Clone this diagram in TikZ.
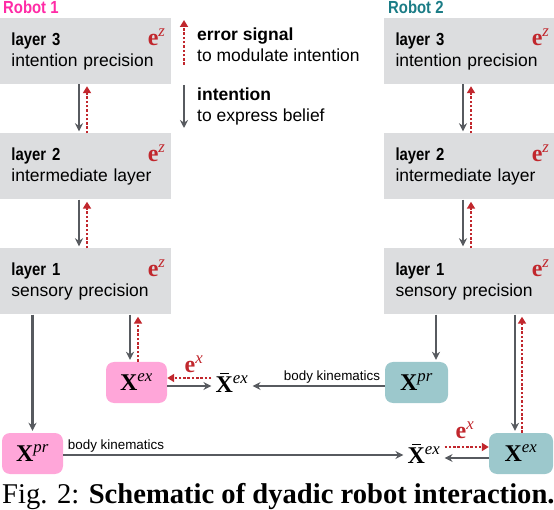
\documentclass[tikz,border=0pt]{standalone}
\usepackage{fontspec}
\setmainfont{Liberation Serif}
\setsansfont{Liberation Sans}
\newfontfamily\condsans[FakeStretch=0.85]{Liberation Sans}
\usetikzlibrary{positioning,arrows.meta}
\definecolor{boxgray}{HTML}{DCDDDF}
\definecolor{robpink}{HTML}{FFA6D9}
\definecolor{robteal}{HTML}{9CC8CC}
\definecolor{arrgray}{HTML}{575A5F}
\definecolor{errred}{HTML}{C1272D}
\definecolor{robmag}{HTML}{FF2BA6}
\definecolor{robdark}{HTML}{1B7C86}
\newcommand{\layertxt}[2]{{\condsans\bfseries #1}\\#2}
\newcommand{\Xs}[1]{\textbf{X}\textsuperscript{\itshape #1}}
\newcommand{\Xbar}{\textbf{\rlap{\hspace{0.2em}\rule[0.74em]{0.34em}{0.07em}}X}\textsuperscript{\itshape ex}}
\newcommand{\err}[1]{\textbf{e}\textsuperscript{\itshape #1}}
\tikzset{
    layer/.style={fill=boxgray, minimum height=66pt, text width=147pt, align=left,
        inner xsep=12pt, font=\sffamily\fontsize{17.5}{21}\selectfont},
    state/.style={rounded corners=8pt, minimum width=61pt, minimum height=41pt,
        inner sep=2pt, font=\fontsize{24}{26}\selectfont},
    plain/.style={inner sep=4pt, font=\fontsize{24}{26}\selectfont},
    ez/.style={inner sep=0pt, text=errred, font=\fontsize{24}{26}\selectfont},
    legtxt/.style={inner sep=0pt, align=left, anchor=west, font=\sffamily\fontsize{17.5}{21}\selectfont},
    kin/.style={inner sep=0pt, font=\sffamily\fontsize{13.4}{15}\selectfont},
    robot/.style={inner sep=0pt, anchor=west, font=\condsans\bfseries\fontsize{17.5}{20}\selectfont},
    down/.style={draw=arrgray, line width=2.5pt, shorten >=2pt, -{Stealth[length=8pt,width=8pt]}},
    up/.style={draw=errred, line width=2.5pt, dash pattern=on 2.5pt off 1.8pt, shorten >=2pt,
        -{Triangle[length=7pt,width=8pt]}}
}
\begin{document}
\begin{tikzpicture}[x=1pt, y=-1pt]
    \useasboundingbox (0,0) rectangle (554,510);
    % robot 1
    \node[robot, text=robmag] (rob1) at (3,7) {Robot 1};
    \node[layer] (l3a) at (85,51) {\layertxt{layer 3}{intention precision}};
    \node[layer] (l2a) at (85,166.5) {\layertxt{layer 2}{intermediate layer}};
    \node[layer] (l1a) at (85,281.5) {\layertxt{layer 1}{sensory precision}};
    % robot 2
    \node[robot, text=robdark] (rob2) at (388,7) {Robot 2};
    \node[layer] (l3b) at (469,51) {\layertxt{layer 3}{intention precision}};
    \node[layer] (l2b) at (469,166.5) {\layertxt{layer 2}{intermediate layer}};
    \node[layer] (l1b) at (469,281.5) {\layertxt{layer 1}{sensory precision}};
    \foreach \n in {l3a,l2a,l1a,l3b,l2b,l1b}
        \node[ez, anchor=north east] (ez\n) at ([xshift=-5pt, yshift=-11pt]\n.north east) {\err{z}};
    \foreach \u/\l in {l3a/l2a, l2a/l1a, l3b/l2b, l2b/l1b} {
        \draw[down] ([xshift=-6pt]\u.south) -- ([xshift=-6pt]\l.north);
        \draw[up] ([xshift=2pt]\l.north) -- ([xshift=2pt]\u.south);
    }
    % legend
    \coordinate (errlo) at (184,65);
    \coordinate (errhi) at (184,20);
    \coordinate (intlo) at (184,128);
    \coordinate (inthi) at (184,85);
    \draw[up, shorten >=0pt] (errlo) -- (errhi);
    \draw[down, shorten >=0pt] (inthi) -- (intlo);
    \node[legtxt] (legerr) at (197,45) {\textbf{error signal}\\to modulate intention};
    \node[legtxt] (legint) at (197,106) {\textbf{intention}\\to express belief};
    % states
    \node[state, fill=robpink] (xpra) at (32.5,453.5) {\Xs{pr}};
    \node[state, fill=robpink] (xexa) at (136.5,382.5) {\Xs{ex}};
    \node[plain] (xbara) at (232,382.5) {\Xbar};
    \node[state, fill=robteal, minimum width=63pt] (xprb) at (416.5,382.5) {\Xs{pr}};
    \node[state, fill=robteal, minimum width=64pt] (xexb) at (521,453.5) {\Xs{ex}};
    \node[plain] (xbarb) at (424,453.5) {\Xbar};
    % robot 1 links
    \draw[down] (l1a.south -| xpra.north) -- (xpra.north);
    \draw[down] ([xshift=-6.5pt]xexa.north |- l1a.south) -- ([xshift=-6.5pt]xexa.north);
    \draw[up] ([xshift=1.5pt]xexa.north) -- ([xshift=1.5pt]xexa.north |- l1a.south);
    \draw[down, shorten >=0pt] ([yshift=-3.5pt]xexa.east) -- ([yshift=-3.5pt]xbara.west);
    \draw[up, shorten >=0pt] ([yshift=4.5pt]xbara.west) -- ([yshift=4.5pt]xexa.east);
    \node[ez] (exa) at (194,364) {\err{x}};
    % robot 2 links
    \draw[down] ([xshift=19.5pt]xprb.north |- l1b.south) -- ([xshift=19.5pt]xprb.north);
    \draw[down] ([xshift=-6pt]xexb.north |- l1b.south) -- ([xshift=-6pt]xexb.north);
    \draw[up] ([xshift=1pt]xexb.north) -- ([xshift=1pt]xexb.north |- l1b.south);
    \draw[down, shorten >=0pt] ([yshift=-4.5pt]xexb.west) -- ([yshift=-4.5pt]xbarb.east);
    \draw[up, shorten >=0pt] ([yshift=6.5pt]xbarb.east) -- ([yshift=6.5pt]xexb.west);
    \node[ez] (exb) at (465,430) {\err{x}};
    % body kinematics
    \draw[down, shorten >=0pt] ([yshift=-3.5pt]xprb.west) -- ([yshift=-3.5pt]xbara.east);
    \node[kin] (kinb) at (332,377) {body kinematics};
    \draw[down, shorten >=0pt] ([yshift=-1.5pt]xpra.east) -- ([yshift=-1.5pt]xbarb.west);
    \node[kin] (kina) at (116,446) {body kinematics};
    % caption
    \node[inner sep=0pt, anchor=west, font=\fontsize{28.6}{30}\selectfont] (cap) at (2,497)
        {Fig. 2: \textbf{Schematic of dyadic robot interaction.}};
\end{tikzpicture}
\end{document}
